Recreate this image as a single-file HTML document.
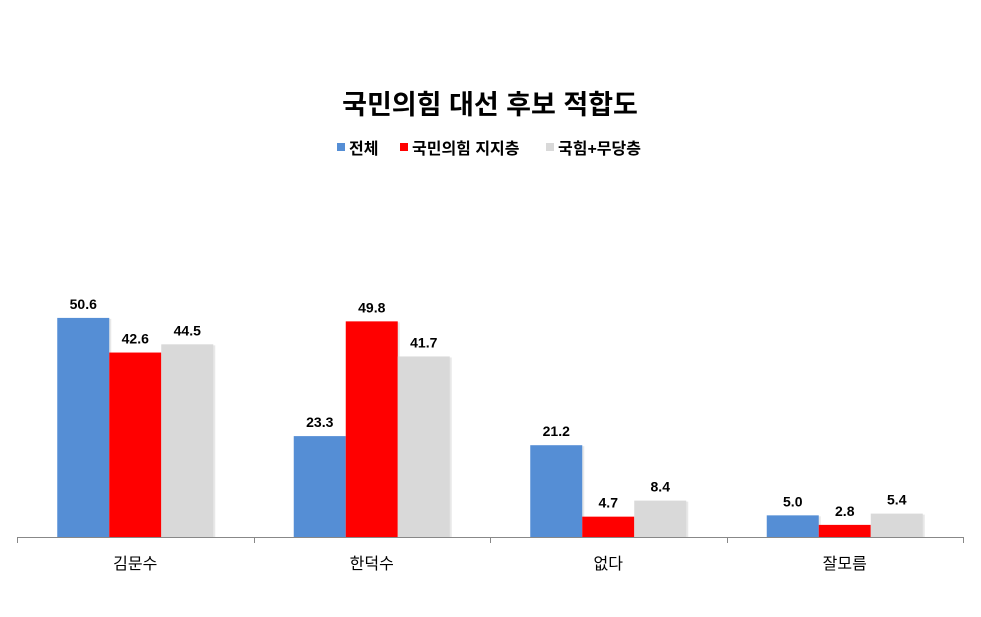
<!DOCTYPE html>
<html><head><meta charset="utf-8">
<style>
html,body{margin:0;padding:0;background:#fff;}
body{width:981px;height:612px;overflow:hidden;font-family:"Liberation Sans","Noto Sans CJK KR",sans-serif;}
</style></head>
<body>
<svg width="981" height="612" viewBox="0 0 981 612" xmlns="http://www.w3.org/2000/svg" font-family="Liberation Sans, Noto Sans CJK KR, sans-serif">
  <text x="490" y="114" text-anchor="middle" font-size="27" font-weight="bold" fill="#000">국민의힘 대선 후보 적합도</text>
  <g id="legend"></g>
  <g id="bars"></g>
  <g id="axis"></g>
</svg>
<script>
const categories = ["김문수","한덕수","없다","잘모름"];
const seriesNames = ["전체","국민의힘 지지층","국힘+무당층"];
const seriesAll = [50.6,23.3,21.2,5.0];
const seriesPPP = [42.6,49.8,4.7,2.8];
const seriesPPPInd = [44.5,41.7,8.4,5.4];
const series = [seriesAll, seriesPPP, seriesPPPInd];
const colors = ["#558ed5","#ff0000","#d9d9d9"];
const NS = "http://www.w3.org/2000/svg";
const x0 = 17, x1 = 963, baseY = 537, pxPerUnit = 4.33;
const groupW = (x1 - x0) / categories.length;
const barW = 52;
function xScale(ci, si){ return x0 + groupW*ci + groupW/2 + (si-1.5)*barW; }
function yScale(v){ return baseY - v*pxPerUnit; }
function mk(tag, attrs){ const e=document.createElementNS(NS,tag); for(const k in attrs) e.setAttribute(k,attrs[k]); return e; }
const bars=document.getElementById('bars');
series.forEach((s,si)=>{
  s.forEach((v,ci)=>{
    const x=xScale(ci,si), y=yScale(v);
    const sh=mk('rect',{x:x+2,y:y+1,width:barW,height:baseY-y-1,fill:'#e8e8e8'});
    
    
    bars.appendChild(sh);
    const r=mk('rect',{x:x,y:y,width:barW,height:baseY-y,fill:colors[si]});
    
    
    bars.appendChild(r);
    const t=mk('text',{x:x+barW/2,y:y-9,'text-anchor':'middle','font-size':'14','font-weight':'bold',fill:'#000'});
    t.textContent=v.toFixed(1);
    
    
    bars.appendChild(t);
  });
});
const axis=document.getElementById('axis');
axis.appendChild(mk('line',{x1:x0,y1:baseY+0.5,x2:x1,y2:baseY+0.5,stroke:'#888','stroke-width':1}));
for(let i=0;i<=categories.length;i++){
  const tx=Math.round(x0+groupW*i)+0.5;
  const tk=mk('line',{x1:tx,y1:baseY,x2:tx,y2:baseY+6,stroke:'#888','stroke-width':1});
  
  
  axis.appendChild(tk);
}
categories.forEach((c,ci)=>{
  const t=mk('text',{x:x0+groupW*ci+groupW/2,y:569,'text-anchor':'middle','font-size':'16',fill:'#000'});
  t.textContent=c;
  
  
  axis.appendChild(t);
});
const legend=document.getElementById('legend');
const lx=[337,400,546];
seriesNames.forEach((n,i)=>{
  const r=mk('rect',{x:lx[i],y:143,width:8,height:8,fill:colors[i]});
  
  
  legend.appendChild(r);
  const t=mk('text',{x:lx[i]+12,y:154,'font-size':'16','font-weight':'bold',fill:'#000'});
  t.textContent=n;
  
  
  legend.appendChild(t);
});
</script>
</body></html>
